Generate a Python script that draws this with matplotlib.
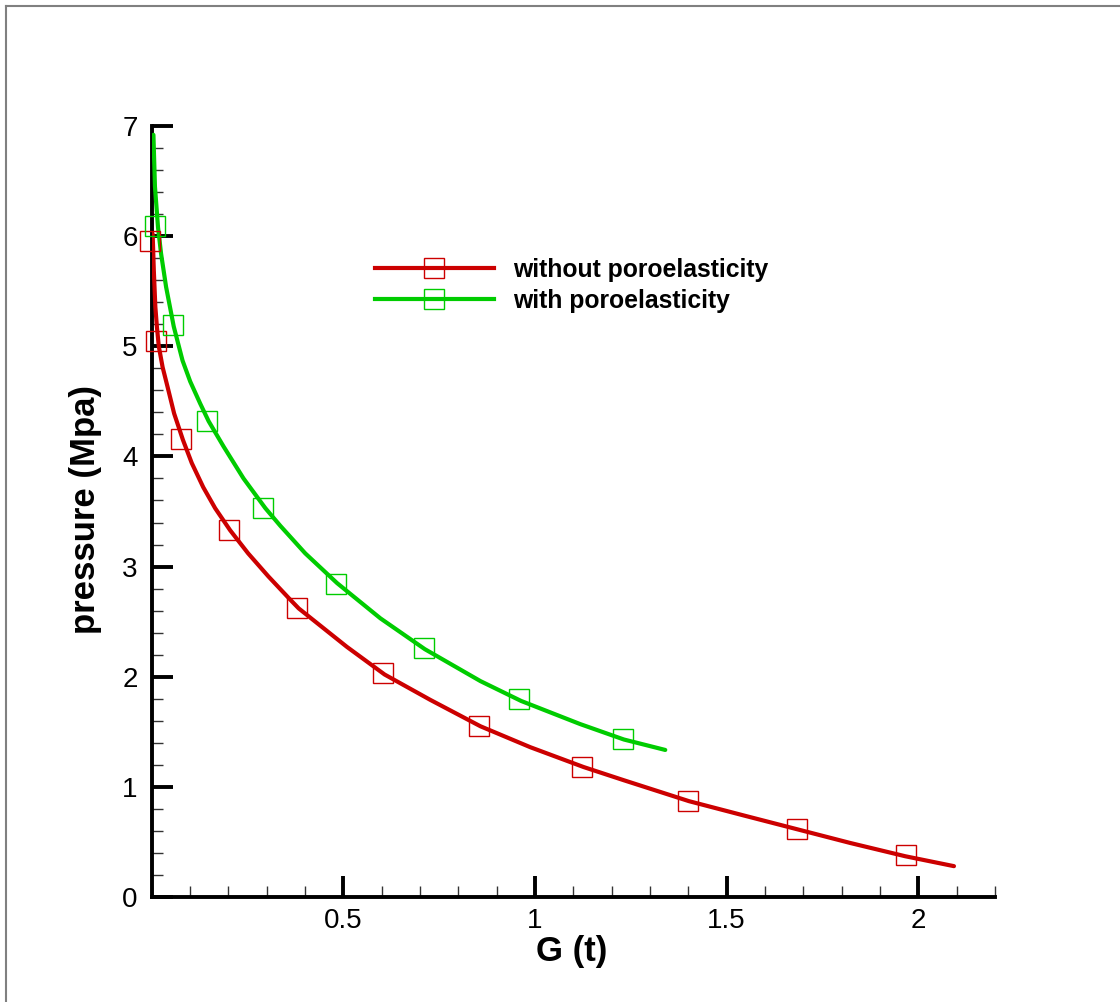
import numpy as np
import matplotlib
matplotlib.use("Agg")
import matplotlib.pyplot as plt
from matplotlib.lines import Line2D
from matplotlib.ticker import MultipleLocator, FixedLocator

# ============================================================
# DATA
# ============================================================

# curve without poroelasticity
red_g = [0.003, 0.006, 0.010, 0.014, 0.019, 0.029, 0.042, 0.059, 0.082,
         0.105, 0.135, 0.166, 0.205, 0.252, 0.305, 0.359, 0.384, 0.510,
         0.608, 0.727, 0.858, 0.988, 1.127, 1.232, 1.402, 1.545, 1.684,
         1.823, 1.966, 2.093]
red_p = [6.02, 5.69, 5.36, 5.18, 5.00, 4.81, 4.63, 4.39, 4.15,
         3.94, 3.72, 3.53, 3.33, 3.12, 2.91, 2.71, 2.62, 2.27,
         2.02, 1.79, 1.55, 1.36, 1.18, 1.06, 0.87, 0.74, 0.615,
         0.49, 0.37, 0.28]

# curve with poroelasticity
green_g = [0.005, 0.009, 0.017, 0.025, 0.038, 0.058, 0.081, 0.101, 0.127,
           0.149, 0.188, 0.240, 0.297, 0.336, 0.401, 0.484, 0.597, 0.713,
           0.858, 0.964, 1.118, 1.232, 1.340]
green_p = [6.92, 6.45, 6.08, 5.84, 5.54, 5.18, 4.87, 4.68, 4.48,
           4.32, 4.09, 3.80, 3.53, 3.37, 3.12, 2.85, 2.53, 2.25,
           1.96, 1.78, 1.57, 1.43, 1.335]

# symbols
red_sym_g = [-0.005, 0.013, 0.078, 0.201, 0.379, 0.603, 0.854, 1.123, 1.40, 1.684, 1.969]
red_sym_p = [5.96, 5.05, 4.16, 3.33, 2.62, 2.03, 1.55, 1.18, 0.87, 0.62, 0.38]

green_sym_g = [0.010, 0.055, 0.146, 0.290, 0.480, 0.710, 0.958, 1.230]
green_sym_p = [6.09, 5.19, 4.32, 3.53, 2.84, 2.26, 1.80, 1.43]

labels = ["without poroelasticity", "with poroelasticity"]
x_ticks = [0.5, 1.0, 1.5, 2.0]
x_ticklabels = ["0.5", "1", "1.5", "2"]
y_ticks = [0, 1, 2, 3, 4, 5, 6, 7]

red = "#cc0000"
green = "#00cc00"

# ============================================================
# FIGURE
# ============================================================

plt.rcParams["font.family"] = ["Liberation Sans", "DejaVu Sans"]

W, H = 1120, 1002
fig = plt.figure(figsize=(W / 100, H / 100), dpi=100)
ax = fig.add_axes([151.5 / W, 105 / H, (995 - 151.5) / W, (897 - 126) / H])

ax.plot(red_g, red_p, color=red, lw=3.0, solid_capstyle="round",
        solid_joinstyle="round", zorder=3)
ax.plot(green_g, green_p, color=green, lw=3.0, solid_capstyle="round",
        solid_joinstyle="round", zorder=3)

ax.plot(red_sym_g, red_sym_p, ls="none", marker="s", ms=14.5,
        mfc="none", mec=red, mew=1.0, zorder=4, clip_on=False)
ax.plot(green_sym_g, green_sym_p, ls="none", marker="s", ms=14.5,
        mfc="none", mec=green, mew=1.0, zorder=4, clip_on=False)

ax.set_xlim(0, 2.2)
ax.set_ylim(0, 7)

for s in ["top", "right"]:
    ax.spines[s].set_visible(False)
for s in ["left", "bottom"]:
    ax.spines[s].set_linewidth(2.8)

ax.xaxis.set_major_locator(FixedLocator(x_ticks))
ax.set_xticklabels(x_ticklabels)
ax.xaxis.set_minor_locator(MultipleLocator(0.1))
ax.yaxis.set_major_locator(FixedLocator(y_ticks))
ax.yaxis.set_minor_locator(MultipleLocator(0.2))

ax.tick_params(which="major", direction="in", length=15, width=2.8,
               labelsize=20, color="black")
ax.tick_params(which="minor", direction="in", length=8, width=1.0,
               color="#333333")
ax.tick_params(axis="x", which="major", pad=8)
ax.tick_params(axis="y", which="major", pad=10)

ax.set_xlabel("G (t)", fontsize=25, fontweight="bold")
ax.xaxis.set_label_coords((572 - 151.5) / 843.5, (897 - 951) / 771)
ax.xaxis.label.set_va("center")
ax.set_ylabel("pressure (Mpa)", fontsize=25, fontweight="bold")
ax.yaxis.set_label_coords((85 - 151.5) / 843.5, (897 - 510) / 771)
ax.yaxis.label.set_va("center")

handles = [
    Line2D([], [], color=red, lw=3.0, marker="s", ms=14.5, mfc="none", mec=red, mew=1.0),
    Line2D([], [], color=green, lw=3.0, marker="s", ms=14.5, mfc="none", mec=green, mew=1.0),
]
ax.legend(handles, labels, loc="upper left", bbox_to_anchor=(375 / W, 1 - 258 / H),
          bbox_transform=fig.transFigure, frameon=False, numpoints=1,
          prop={"size": 17.8, "weight": "bold"}, handlelength=4.8,
          handletextpad=0.8, labelspacing=0.28, borderpad=0, borderaxespad=0)

# gray frame at top and left edges
fig.add_artist(Line2D([6 / W, 1], [1 - 6 / H, 1 - 6 / H], color="#808080", lw=1.5,
                      transform=fig.transFigure))
fig.add_artist(Line2D([6 / W, 6 / W], [0, 1 - 6 / H], color="#808080", lw=1.5,
                      transform=fig.transFigure))

fig.savefig("out.png", dpi=100)
